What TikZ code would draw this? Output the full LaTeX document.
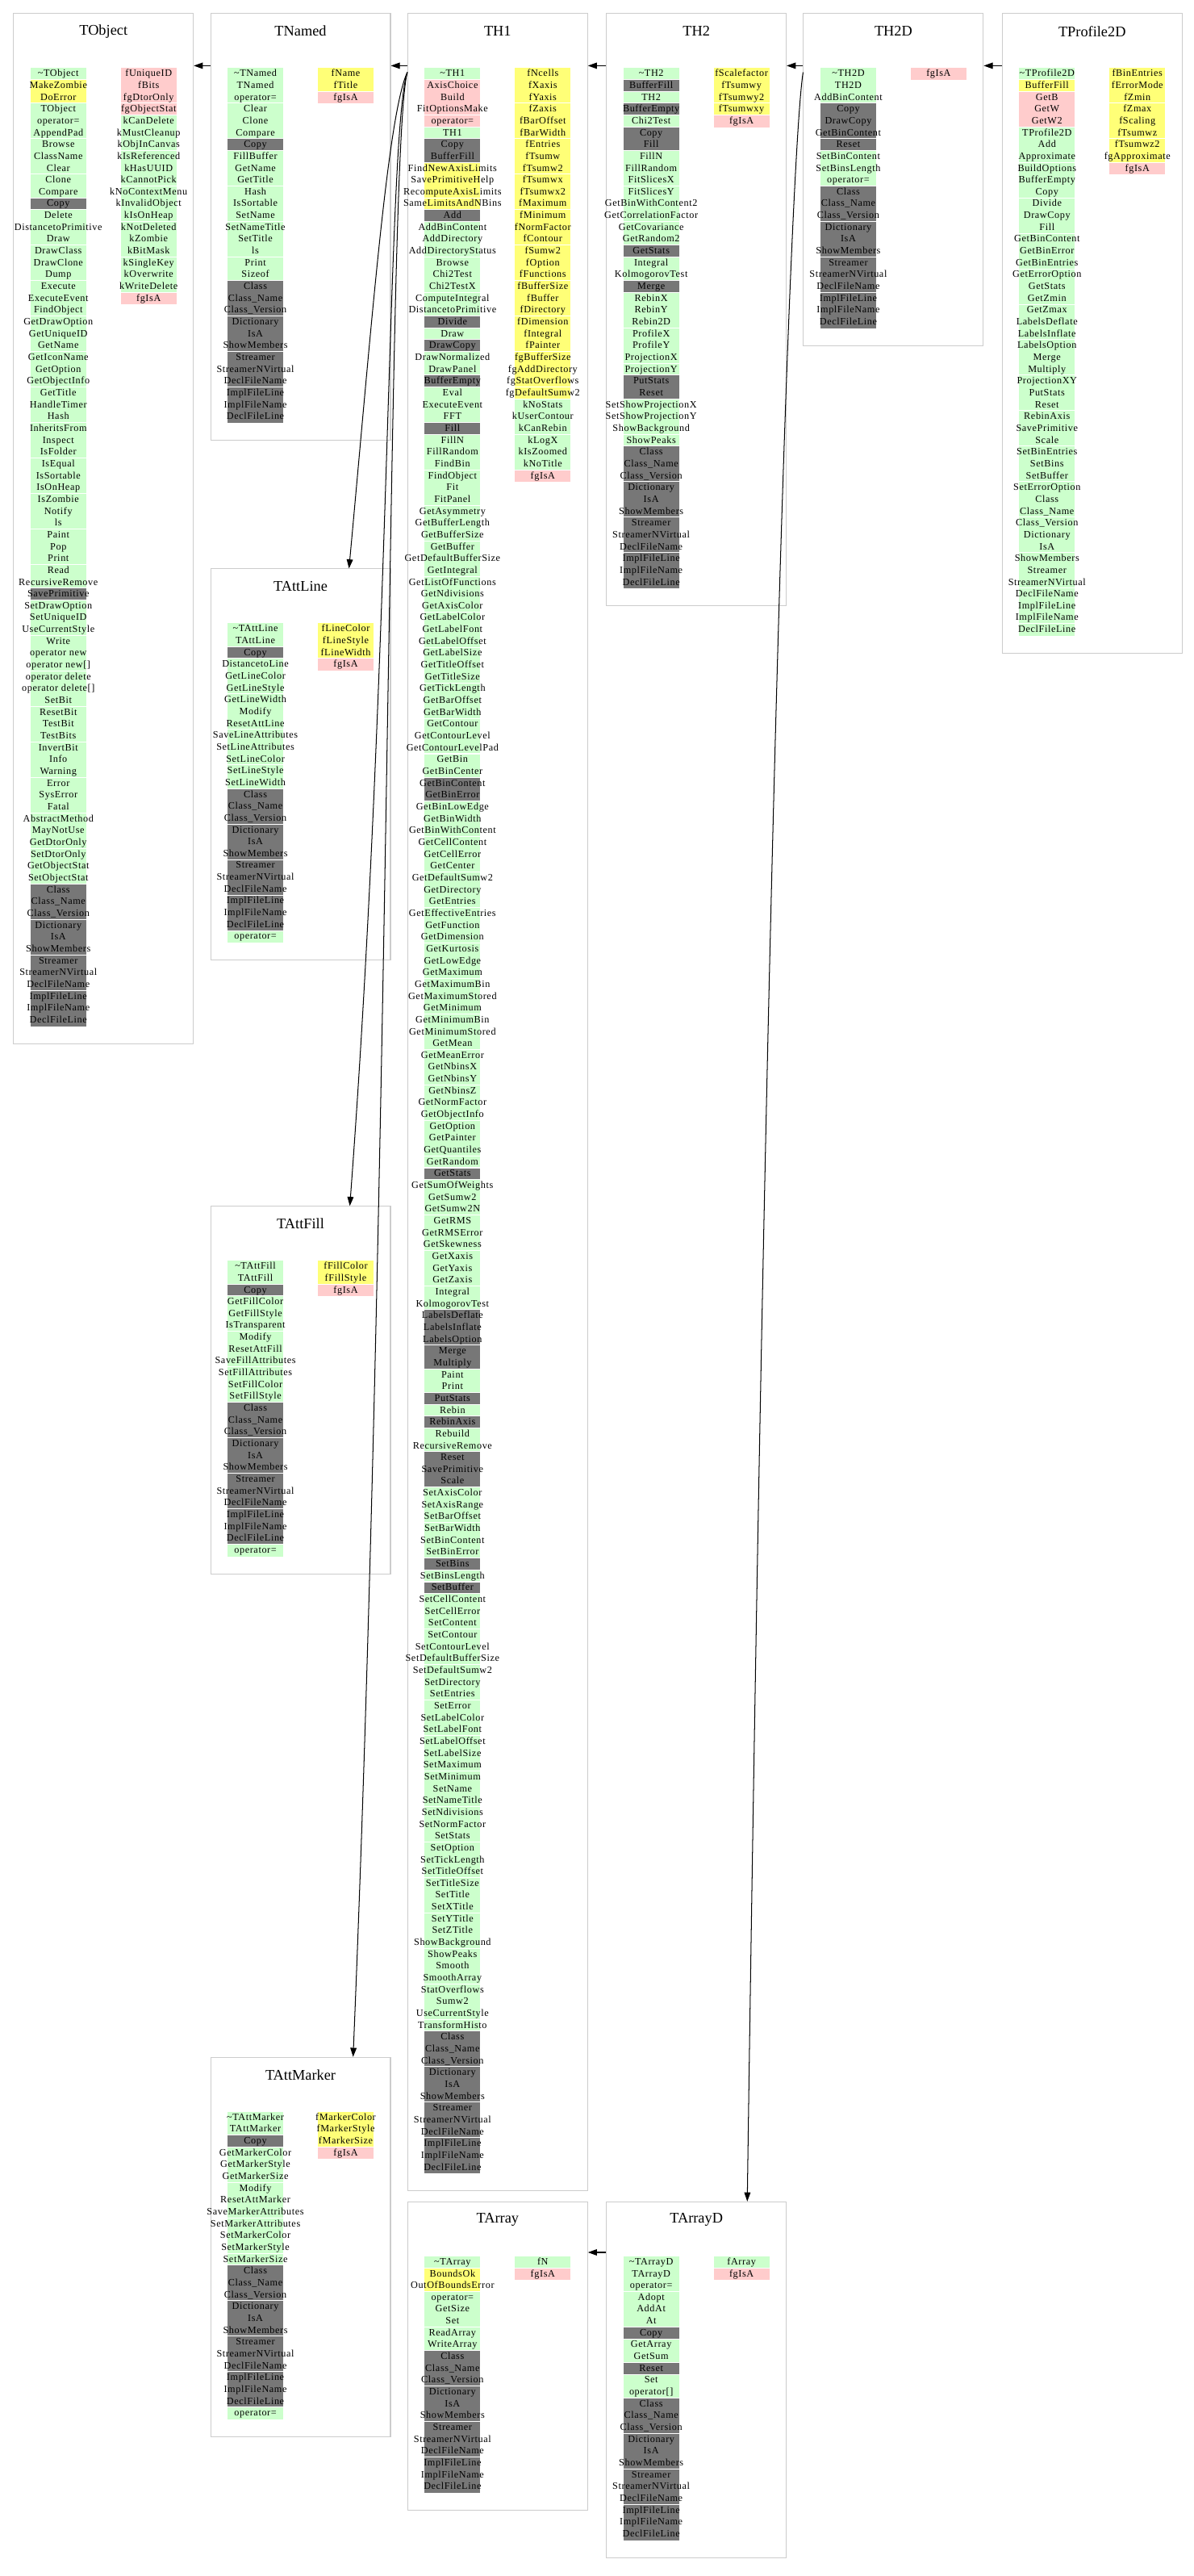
\documentclass[tikz,border=0pt]{standalone}
\usepackage{fontspec}
\setmainfont{Liberation Serif}
\newfontfamily\chartfont[LetterSpace=5]{Liberation Serif}
\usetikzlibrary{arrows.meta}
\definecolor{cellg}{HTML}{CCFFCC}
\definecolor{celly}{HTML}{FFFF77}
\definecolor{cellp}{HTML}{FFCCCC}
\definecolor{celld}{HTML}{777777}
\definecolor{framegray}{HTML}{CCCCCC}
\tikzset{
  classframe/.style={draw=framegray,line width=0.5pt,anchor=north west,minimum width=109.5pt,inner sep=0pt},
  classtitle/.style={font=\fontsize{9}{10}\selectfont,inner sep=0pt},
  cell/.style={fill=cell#1,inner sep=0pt,minimum width=34pt,minimum height=7.2pt,
    text height=4.3pt,text depth=1.2pt,font=\chartfont\fontsize{6}{7}\selectfont},
  cellsep/.style={white,line width=0.5pt},
  inherit/.style={-{Triangle[length=5.5pt,width=3.8pt]},line width=0.5pt}
}
% one column of a class box: prefix, x, y of first row, colour/name list
\newcommand{\memberlist}[4]{%
  \gdef\prevcell{}\gdef\runcount{0}%
  \foreach \c/\t [count=\i] in {#4}{%
    \node[cell=\c] (#1\i) at (#2,{#3+7.2*(\i-1)}) {\makebox[34pt]{\t}};
    \ifx\c\prevcell \pgfmathtruncatemacro\runnow{\runcount+1}\else \def\runnow{1}\fi
    \ifnum\runnow>3 \def\runnow{1}\fi
    \global\let\runcount\runnow \global\let\prevcell\c
    \ifnum\runnow=1 \ifnum\i>1 \draw[cellsep] (#1\i.north west) -- (#1\i.north east);\fi\fi
  }%
}

\begin{document}
\begin{tikzpicture}[x=1pt,y=-1pt]
\fill[white] (0,0) rectangle (727,1568);
\useasboundingbox (0,0) rectangle (727,1568);

% class boxes
\node[classframe,minimum height=627pt] (TObject) at (8,8) {};
\node[classframe,minimum height=259.8pt] (TNamed) at (128,8) {};
\node[classframe,minimum height=1325.4pt] (TH1) at (248,8) {};
\node[classframe,minimum height=360.6pt] (TH2) at (369,8) {};
\node[classframe,minimum height=202.2pt] (TH2D) at (489,8) {};
\node[classframe,minimum height=389.4pt] (TProfile2D) at (610,8) {};
\node[classframe,minimum height=238.2pt] (TAttLine) at (128,346) {};
\node[classframe,minimum height=223.8pt] (TAttFill) at (128,734) {};
\node[classframe,minimum height=231pt] (TAttMarker) at (128,1252) {};
\node[classframe,minimum height=187.8pt] (TArray) at (248,1340) {};
\node[classframe,minimum height=216.6pt] (TArrayD) at (369,1340) {};

\foreach \n in {TObject,TNamed,TH1,TH2,TH2D,TProfile2D,TAttLine,TAttFill,TAttMarker,TArray,TArrayD}
  \node[classtitle] (\n-title) at ([yshift=-11pt]\n.north) {\n};

% TObject
\memberlist{TObject-m}{35.5}{45}{g/\textasciitilde TObject, y/MakeZombie, y/DoError, g/TObject, g/operator=, g/AppendPad, g/Browse, g/ClassName, g/Clear, g/Clone, g/Compare, d/Copy, g/Delete, g/DistancetoPrimitive, g/Draw, g/DrawClass, g/DrawClone, g/Dump, g/Execute, g/ExecuteEvent, g/FindObject, g/GetDrawOption, g/GetUniqueID, g/GetName, g/GetIconName, g/GetOption, g/GetObjectInfo, g/GetTitle, g/HandleTimer, g/Hash, g/InheritsFrom, g/Inspect, g/IsFolder, g/IsEqual, g/IsSortable, g/IsOnHeap, g/IsZombie, g/Notify, g/ls, g/Paint, g/Pop, g/Print, g/Read, g/RecursiveRemove, d/SavePrimitive, g/SetDrawOption, g/SetUniqueID, g/UseCurrentStyle, g/Write, g/operator new, g/operator new[], g/operator delete, g/operator delete[], g/SetBit, g/ResetBit, g/TestBit, g/TestBits, g/InvertBit, g/Info, g/Warning, g/Error, g/SysError, g/Fatal, g/AbstractMethod, g/MayNotUse, g/GetDtorOnly, g/SetDtorOnly, g/GetObjectStat, g/SetObjectStat, d/Class, d/Class\_Name, d/Class\_Version, d/Dictionary, d/IsA, d/ShowMembers, d/Streamer, d/StreamerNVirtual, d/DeclFileName, d/ImplFileLine, d/ImplFileName, d/DeclFileLine}
\memberlist{TObject-f}{90.5}{45}{p/fUniqueID, p/fBits, p/fgDtorOnly, p/fgObjectStat, g/kCanDelete, g/kMustCleanup, g/kObjInCanvas, g/kIsReferenced, g/kHasUUID, g/kCannotPick, g/kNoContextMenu, g/kInvalidObject, g/kIsOnHeap, g/kNotDeleted, g/kZombie, g/kBitMask, g/kSingleKey, g/kOverwrite, g/kWriteDelete, p/fgIsA}

% TNamed
\memberlist{TNamed-m}{155.5}{45}{g/\textasciitilde TNamed, g/TNamed, g/operator=, g/Clear, g/Clone, g/Compare, d/Copy, g/FillBuffer, g/GetName, g/GetTitle, g/Hash, g/IsSortable, g/SetName, g/SetNameTitle, g/SetTitle, g/ls, g/Print, g/Sizeof, d/Class, d/Class\_Name, d/Class\_Version, d/Dictionary, d/IsA, d/ShowMembers, d/Streamer, d/StreamerNVirtual, d/DeclFileName, d/ImplFileLine, d/ImplFileName, d/DeclFileLine}
\memberlist{TNamed-f}{210.5}{45}{y/fName, y/fTitle, p/fgIsA}

% TH1
\memberlist{TH1-m}{275.5}{45}{g/\textasciitilde TH1, p/AxisChoice, p/Build, p/FitOptionsMake, p/operator=, g/TH1, d/Copy, d/BufferFill, y/FindNewAxisLimits, y/SavePrimitiveHelp, y/RecomputeAxisLimits, y/SameLimitsAndNBins, d/Add, g/AddBinContent, g/AddDirectory, g/AddDirectoryStatus, g/Browse, g/Chi2Test, g/Chi2TestX, g/ComputeIntegral, g/DistancetoPrimitive, d/Divide, g/Draw, d/DrawCopy, g/DrawNormalized, g/DrawPanel, d/BufferEmpty, g/Eval, g/ExecuteEvent, g/FFT, d/Fill, g/FillN, g/FillRandom, g/FindBin, g/FindObject, g/Fit, g/FitPanel, g/GetAsymmetry, g/GetBufferLength, g/GetBufferSize, g/GetBuffer, g/GetDefaultBufferSize, g/GetIntegral, g/GetListOfFunctions, g/GetNdivisions, g/GetAxisColor, g/GetLabelColor, g/GetLabelFont, g/GetLabelOffset, g/GetLabelSize, g/GetTitleOffset, g/GetTitleSize, g/GetTickLength, g/GetBarOffset, g/GetBarWidth, g/GetContour, g/GetContourLevel, g/GetContourLevelPad, g/GetBin, g/GetBinCenter, d/GetBinContent, d/GetBinError, g/GetBinLowEdge, g/GetBinWidth, g/GetBinWithContent, g/GetCellContent, g/GetCellError, g/GetCenter, g/GetDefaultSumw2, g/GetDirectory, g/GetEntries, g/GetEffectiveEntries, g/GetFunction, g/GetDimension, g/GetKurtosis, g/GetLowEdge, g/GetMaximum, g/GetMaximumBin, g/GetMaximumStored, g/GetMinimum, g/GetMinimumBin, g/GetMinimumStored, g/GetMean, g/GetMeanError, g/GetNbinsX, g/GetNbinsY, g/GetNbinsZ, g/GetNormFactor, g/GetObjectInfo, g/GetOption, g/GetPainter, g/GetQuantiles, g/GetRandom, d/GetStats, g/GetSumOfWeights, g/GetSumw2, g/GetSumw2N, g/GetRMS, g/GetRMSError, g/GetSkewness, g/GetXaxis, g/GetYaxis, g/GetZaxis, g/Integral, g/KolmogorovTest, d/LabelsDeflate, d/LabelsInflate, d/LabelsOption, d/Merge, d/Multiply, g/Paint, g/Print, d/PutStats, g/Rebin, d/RebinAxis, g/Rebuild, g/RecursiveRemove, d/Reset, d/SavePrimitive, d/Scale, g/SetAxisColor, g/SetAxisRange, g/SetBarOffset, g/SetBarWidth, g/SetBinContent, g/SetBinError, d/SetBins, g/SetBinsLength, d/SetBuffer, g/SetCellContent, g/SetCellError, g/SetContent, g/SetContour, g/SetContourLevel, g/SetDefaultBufferSize, g/SetDefaultSumw2, g/SetDirectory, g/SetEntries, g/SetError, g/SetLabelColor, g/SetLabelFont, g/SetLabelOffset, g/SetLabelSize, g/SetMaximum, g/SetMinimum, g/SetName, g/SetNameTitle, g/SetNdivisions, g/SetNormFactor, g/SetStats, g/SetOption, g/SetTickLength, g/SetTitleOffset, g/SetTitleSize, g/SetTitle, g/SetXTitle, g/SetYTitle, g/SetZTitle, g/ShowBackground, g/ShowPeaks, g/Smooth, g/SmoothArray, g/StatOverflows, g/Sumw2, g/UseCurrentStyle, g/TransformHisto, d/Class, d/Class\_Name, d/Class\_Version, d/Dictionary, d/IsA, d/ShowMembers, d/Streamer, d/StreamerNVirtual, d/DeclFileName, d/ImplFileLine, d/ImplFileName, d/DeclFileLine}
\memberlist{TH1-f}{330.5}{45}{y/fNcells, y/fXaxis, y/fYaxis, y/fZaxis, y/fBarOffset, y/fBarWidth, y/fEntries, y/fTsumw, y/fTsumw2, y/fTsumwx, y/fTsumwx2, y/fMaximum, y/fMinimum, y/fNormFactor, y/fContour, y/fSumw2, y/fOption, y/fFunctions, y/fBufferSize, y/fBuffer, y/fDirectory, y/fDimension, y/fIntegral, y/fPainter, y/fgBufferSize, y/fgAddDirectory, y/fgStatOverflows, y/fgDefaultSumw2, g/kNoStats, g/kUserContour, g/kCanRebin, g/kLogX, g/kIsZoomed, g/kNoTitle, p/fgIsA}

% TH2
\memberlist{TH2-m}{396.5}{45}{g/\textasciitilde TH2, d/BufferFill, g/TH2, d/BufferEmpty, g/Chi2Test, d/Copy, d/Fill, g/FillN, g/FillRandom, g/FitSlicesX, g/FitSlicesY, g/GetBinWithContent2, g/GetCorrelationFactor, g/GetCovariance, g/GetRandom2, d/GetStats, g/Integral, g/KolmogorovTest, d/Merge, g/RebinX, g/RebinY, g/Rebin2D, g/ProfileX, g/ProfileY, g/ProjectionX, g/ProjectionY, d/PutStats, d/Reset, g/SetShowProjectionX, g/SetShowProjectionY, g/ShowBackground, g/ShowPeaks, d/Class, d/Class\_Name, d/Class\_Version, d/Dictionary, d/IsA, d/ShowMembers, d/Streamer, d/StreamerNVirtual, d/DeclFileName, d/ImplFileLine, d/ImplFileName, d/DeclFileLine}
\memberlist{TH2-f}{451.5}{45}{y/fScalefactor, y/fTsumwy, y/fTsumwy2, y/fTsumwxy, p/fgIsA}

% TH2D
\memberlist{TH2D-m}{516.5}{45}{g/\textasciitilde TH2D, g/TH2D, g/AddBinContent, d/Copy, d/DrawCopy, d/GetBinContent, d/Reset, g/SetBinContent, g/SetBinsLength, g/operator=, d/Class, d/Class\_Name, d/Class\_Version, d/Dictionary, d/IsA, d/ShowMembers, d/Streamer, d/StreamerNVirtual, d/DeclFileName, d/ImplFileLine, d/ImplFileName, d/DeclFileLine}
\memberlist{TH2D-f}{571.5}{45}{p/fgIsA}

% TProfile2D
\memberlist{TProfile2D-m}{637.5}{45}{g/\textasciitilde TProfile2D, y/BufferFill, p/GetB, p/GetW, p/GetW2, g/TProfile2D, g/Add, g/Approximate, g/BuildOptions, g/BufferEmpty, g/Copy, g/Divide, g/DrawCopy, g/Fill, g/GetBinContent, g/GetBinError, g/GetBinEntries, g/GetErrorOption, g/GetStats, g/GetZmin, g/GetZmax, g/LabelsDeflate, g/LabelsInflate, g/LabelsOption, g/Merge, g/Multiply, g/ProjectionXY, g/PutStats, g/Reset, g/RebinAxis, g/SavePrimitive, g/Scale, g/SetBinEntries, g/SetBins, g/SetBuffer, g/SetErrorOption, g/Class, g/Class\_Name, g/Class\_Version, g/Dictionary, g/IsA, g/ShowMembers, g/Streamer, g/StreamerNVirtual, g/DeclFileName, g/ImplFileLine, g/ImplFileName, g/DeclFileLine}
\memberlist{TProfile2D-f}{692.5}{45}{y/fBinEntries, y/fErrorMode, y/fZmin, y/fZmax, y/fScaling, y/fTsumwz, y/fTsumwz2, y/fgApproximate, p/fgIsA}

% TAttLine
\memberlist{TAttLine-m}{155.5}{383}{g/\textasciitilde TAttLine, g/TAttLine, d/Copy, g/DistancetoLine, g/GetLineColor, g/GetLineStyle, g/GetLineWidth, g/Modify, g/ResetAttLine, g/SaveLineAttributes, g/SetLineAttributes, g/SetLineColor, g/SetLineStyle, g/SetLineWidth, d/Class, d/Class\_Name, d/Class\_Version, d/Dictionary, d/IsA, d/ShowMembers, d/Streamer, d/StreamerNVirtual, d/DeclFileName, d/ImplFileLine, d/ImplFileName, d/DeclFileLine, g/operator=}
\memberlist{TAttLine-f}{210.5}{383}{y/fLineColor, y/fLineStyle, y/fLineWidth, p/fgIsA}

% TAttFill
\memberlist{TAttFill-m}{155.5}{771}{g/\textasciitilde TAttFill, g/TAttFill, d/Copy, g/GetFillColor, g/GetFillStyle, g/IsTransparent, g/Modify, g/ResetAttFill, g/SaveFillAttributes, g/SetFillAttributes, g/SetFillColor, g/SetFillStyle, d/Class, d/Class\_Name, d/Class\_Version, d/Dictionary, d/IsA, d/ShowMembers, d/Streamer, d/StreamerNVirtual, d/DeclFileName, d/ImplFileLine, d/ImplFileName, d/DeclFileLine, g/operator=}
\memberlist{TAttFill-f}{210.5}{771}{y/fFillColor, y/fFillStyle, p/fgIsA}

% TAttMarker
\memberlist{TAttMarker-m}{155.5}{1289}{g/\textasciitilde TAttMarker, g/TAttMarker, d/Copy, g/GetMarkerColor, g/GetMarkerStyle, g/GetMarkerSize, g/Modify, g/ResetAttMarker, g/SaveMarkerAttributes, g/SetMarkerAttributes, g/SetMarkerColor, g/SetMarkerStyle, g/SetMarkerSize, d/Class, d/Class\_Name, d/Class\_Version, d/Dictionary, d/IsA, d/ShowMembers, d/Streamer, d/StreamerNVirtual, d/DeclFileName, d/ImplFileLine, d/ImplFileName, d/DeclFileLine, g/operator=}
\memberlist{TAttMarker-f}{210.5}{1289}{y/fMarkerColor, y/fMarkerStyle, y/fMarkerSize, p/fgIsA}

% TArray
\memberlist{TArray-m}{275.5}{1377}{g/\textasciitilde TArray, y/BoundsOk, y/OutOfBoundsError, g/operator=, g/GetSize, g/Set, g/ReadArray, g/WriteArray, d/Class, d/Class\_Name, d/Class\_Version, d/Dictionary, d/IsA, d/ShowMembers, d/Streamer, d/StreamerNVirtual, d/DeclFileName, d/ImplFileLine, d/ImplFileName, d/DeclFileLine}
\memberlist{TArray-f}{330.5}{1377}{g/fN, p/fgIsA}

% TArrayD
\memberlist{TArrayD-m}{396.5}{1377}{g/\textasciitilde TArrayD, g/TArrayD, g/operator=, g/Adopt, g/AddAt, g/At, d/Copy, g/GetArray, g/GetSum, d/Reset, g/Set, g/operator[], d/Class, d/Class\_Name, d/Class\_Version, d/Dictionary, d/IsA, d/ShowMembers, d/Streamer, d/StreamerNVirtual, d/DeclFileName, d/ImplFileLine, d/ImplFileName, d/DeclFileLine}
\memberlist{TArrayD-f}{451.5}{1377}{g/fArray, p/fgIsA}

% inheritance arrows
\draw[inherit] ([yshift=-32pt]TNamed.north west) -- ([yshift=-32pt]TObject.north east);
\draw[inherit] ([yshift=-32pt]TH1.north west) -- ([yshift=-32pt]TNamed.north east);
\draw[inherit] ([yshift=-32pt]TH2.north west) -- ([yshift=-32pt]TH1.north east);
\draw[inherit] ([yshift=-32pt]TH2D.north west) -- ([yshift=-32pt]TH2.north east);
\draw[inherit] ([yshift=-32pt]TProfile2D.north west) -- ([yshift=-32pt]TH2D.north east);
\draw[inherit] ([yshift=-31pt]TArrayD.north west) -- ([yshift=-31pt]TArray.north east);

\draw[inherit] ([yshift=-36pt]TH1.north west) .. controls (236,70) and (226,200) .. ([xshift=29.5pt]TAttLine.north);
\draw[inherit] ([yshift=-36pt]TH1.north west) .. controls (236,80) and (238,400) .. ([xshift=30pt]TAttFill.north);
\draw[inherit] ([yshift=-36pt]TH1.north west) .. controls (236,90) and (238,700) .. ([xshift=32pt]TAttMarker.north);
\draw[inherit] ([yshift=-36pt]TH2D.north west) .. controls (483,80) and (468,420) .. ([xshift=31pt]TArrayD.north);

\end{tikzpicture}
\end{document}
